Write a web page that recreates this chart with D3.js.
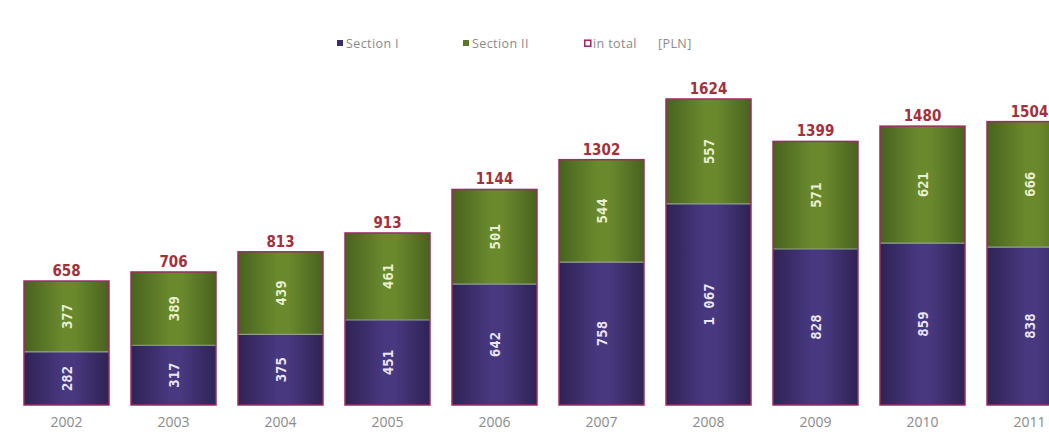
<!DOCTYPE html>
<html>
<head>
<meta charset="utf-8">
<script src="https://cdn.jsdelivr.net/npm/d3@7"></script>
<style>
  html, body { margin: 0; padding: 0; background: #fff; }
  svg { display: block; }
</style>
</head>
<body>
<svg id="chart" width="1049" height="432"></svg>
<script>
// Yearly amounts, PLN
const years = ["2002", "2003", "2004", "2005", "2006", "2007", "2008", "2009", "2010", "2011"];
const sectionI = [282, 317, 375, 451, 642, 758, 1067, 828, 859, 838];
const sectionII = [377, 389, 439, 461, 501, 544, 557, 571, 621, 666];
const totals = [658, 706, 813, 913, 1144, 1302, 1624, 1399, 1480, 1504];
const legendLabels = ["Section I", "Section II", "in total", "[PLN]"];

const svg = d3.select("#chart");

const x = d3.scaleBand()
  .domain(years)
  .range([13, 1083])
  .paddingInner(22 / 107)
  .paddingOuter(11 / 107);

const y = d3.scaleLinear()
  .domain([0, d3.max(totals)])
  .range([405, 99]);

const spaced = d3.formatLocale({ decimal: ",", thousands: "\u2009", grouping: [3], currency: ["", ""] }).format(",d");

// Horizontal shading: darker edges, lighter middle
const defs = svg.append("defs");
function shade(id, edge, mid) {
  const g = defs.append("linearGradient").attr("id", id)
    .attr("x1", "0%").attr("x2", "100%").attr("y1", "0%").attr("y2", "0%");
  g.append("stop").attr("offset", "0%").attr("stop-color", edge);
  g.append("stop").attr("offset", "45%").attr("stop-color", mid);
  g.append("stop").attr("offset", "60%").attr("stop-color", mid);
  g.append("stop").attr("offset", "100%").attr("stop-color", edge);
}
shade("gPurple", "#2e2354", "#47387f");
shade("gGreen", "#48621f", "#6a892d");

const rows = years.map((yr, i) => ({ yr, a: sectionI[i], b: sectionII[i], t: totals[i] }));

const bars = svg.append("g").selectAll("g").data(rows).join("g");

// Section I (bottom)
bars.append("rect")
  .attr("x", d => x(d.yr))
  .attr("width", x.bandwidth())
  .attr("y", d => y(d.a))
  .attr("height", d => y(0) - y(d.a))
  .attr("fill", "url(#gPurple)");

// Section II (stacked up to the total)
bars.append("rect")
  .attr("x", d => x(d.yr))
  .attr("width", x.bandwidth())
  .attr("y", d => y(d.t))
  .attr("height", d => y(d.a) - y(d.t))
  .attr("fill", "url(#gGreen)");

// Divider between sections
bars.append("line")
  .attr("x1", d => x(d.yr))
  .attr("x2", d => x(d.yr) + x.bandwidth())
  .attr("y1", d => y(d.a))
  .attr("y2", d => y(d.a))
  .attr("stroke", "#8d9f8c")
  .attr("stroke-width", 1.2);

// Outline of the total
bars.append("rect")
  .attr("x", d => x(d.yr))
  .attr("width", x.bandwidth())
  .attr("y", d => y(d.t))
  .attr("height", d => y(0) - y(d.t))
  .attr("fill", "none")
  .attr("stroke", "#9e2c62")
  .attr("stroke-width", 1.5);

// Rotated segment values
const valueFont = "'DejaVu Sans Mono', monospace";
bars.append("text")
  .attr("transform", d => `translate(${x(d.yr) + x.bandwidth() / 2},${(y(0) + y(d.a)) / 2}) rotate(-90)`)
  .attr("text-anchor", "middle")
  .attr("dy", "0.36em")
  .attr("font-family", valueFont)
  .attr("font-weight", "bold")
  .attr("font-size", 14)
  .attr("fill", "#ebe6f6")
  .text(d => spaced(d.a));

bars.append("text")
  .attr("transform", d => `translate(${x(d.yr) + x.bandwidth() / 2},${(y(d.a) + y(d.t)) / 2}) rotate(-90)`)
  .attr("text-anchor", "middle")
  .attr("dy", "0.36em")
  .attr("font-family", valueFont)
  .attr("font-weight", "bold")
  .attr("font-size", 14)
  .attr("fill", "#eaf1d2")
  .text(d => spaced(d.b));

// Totals above the bars
bars.append("text")
  .attr("x", d => x(d.yr) + x.bandwidth() / 2)
  .attr("y", d => y(d.t) - 5)
  .attr("text-anchor", "middle")
  .attr("font-family", "'DejaVu Sans Condensed', 'DejaVu Sans', sans-serif")
  .attr("font-stretch", "condensed")
  .attr("font-weight", "bold")
  .attr("font-size", 15)
  .attr("fill", "#a3303a")
  .text(d => d.t);

// Year axis
const xAxis = svg.append("g")
  .attr("transform", `translate(0,${y(0)})`)
  .call(d3.axisBottom(x).tickSize(0).tickPadding(12));
xAxis.select(".domain").remove();
xAxis.selectAll("text")
  .attr("font-family", "'Open Sans', sans-serif")
  .attr("font-size", 14)
  .attr("fill", "#8a8a8a");

// Legend
const legend = svg.append("g").attr("font-family", "'Open Sans', sans-serif").attr("font-size", 12.5).attr("letter-spacing", 0.4).attr("fill", "#8a8a8a");
const legendX = [337, 463, 584, 658];
legend.append("rect").attr("x", legendX[0]).attr("y", 40).attr("width", 6).attr("height", 6).attr("fill", "#3a2d6c");
legend.append("rect").attr("x", legendX[1]).attr("y", 40).attr("width", 6).attr("height", 6).attr("fill", "#5a7626");
legend.append("rect").attr("x", legendX[2] + 0.75).attr("y", 40.25).attr("width", 6).attr("height", 6)
  .attr("fill", "#fff").attr("stroke", "#a02a64").attr("stroke-width", 1.6);
legendLabels.forEach((t, i) => {
  legend.append("text")
    .attr("x", i < 3 ? legendX[i] + 9 : legendX[i])
    .attr("y", 47.5)
    .text(t);
});
</script>
</body>
</html>
